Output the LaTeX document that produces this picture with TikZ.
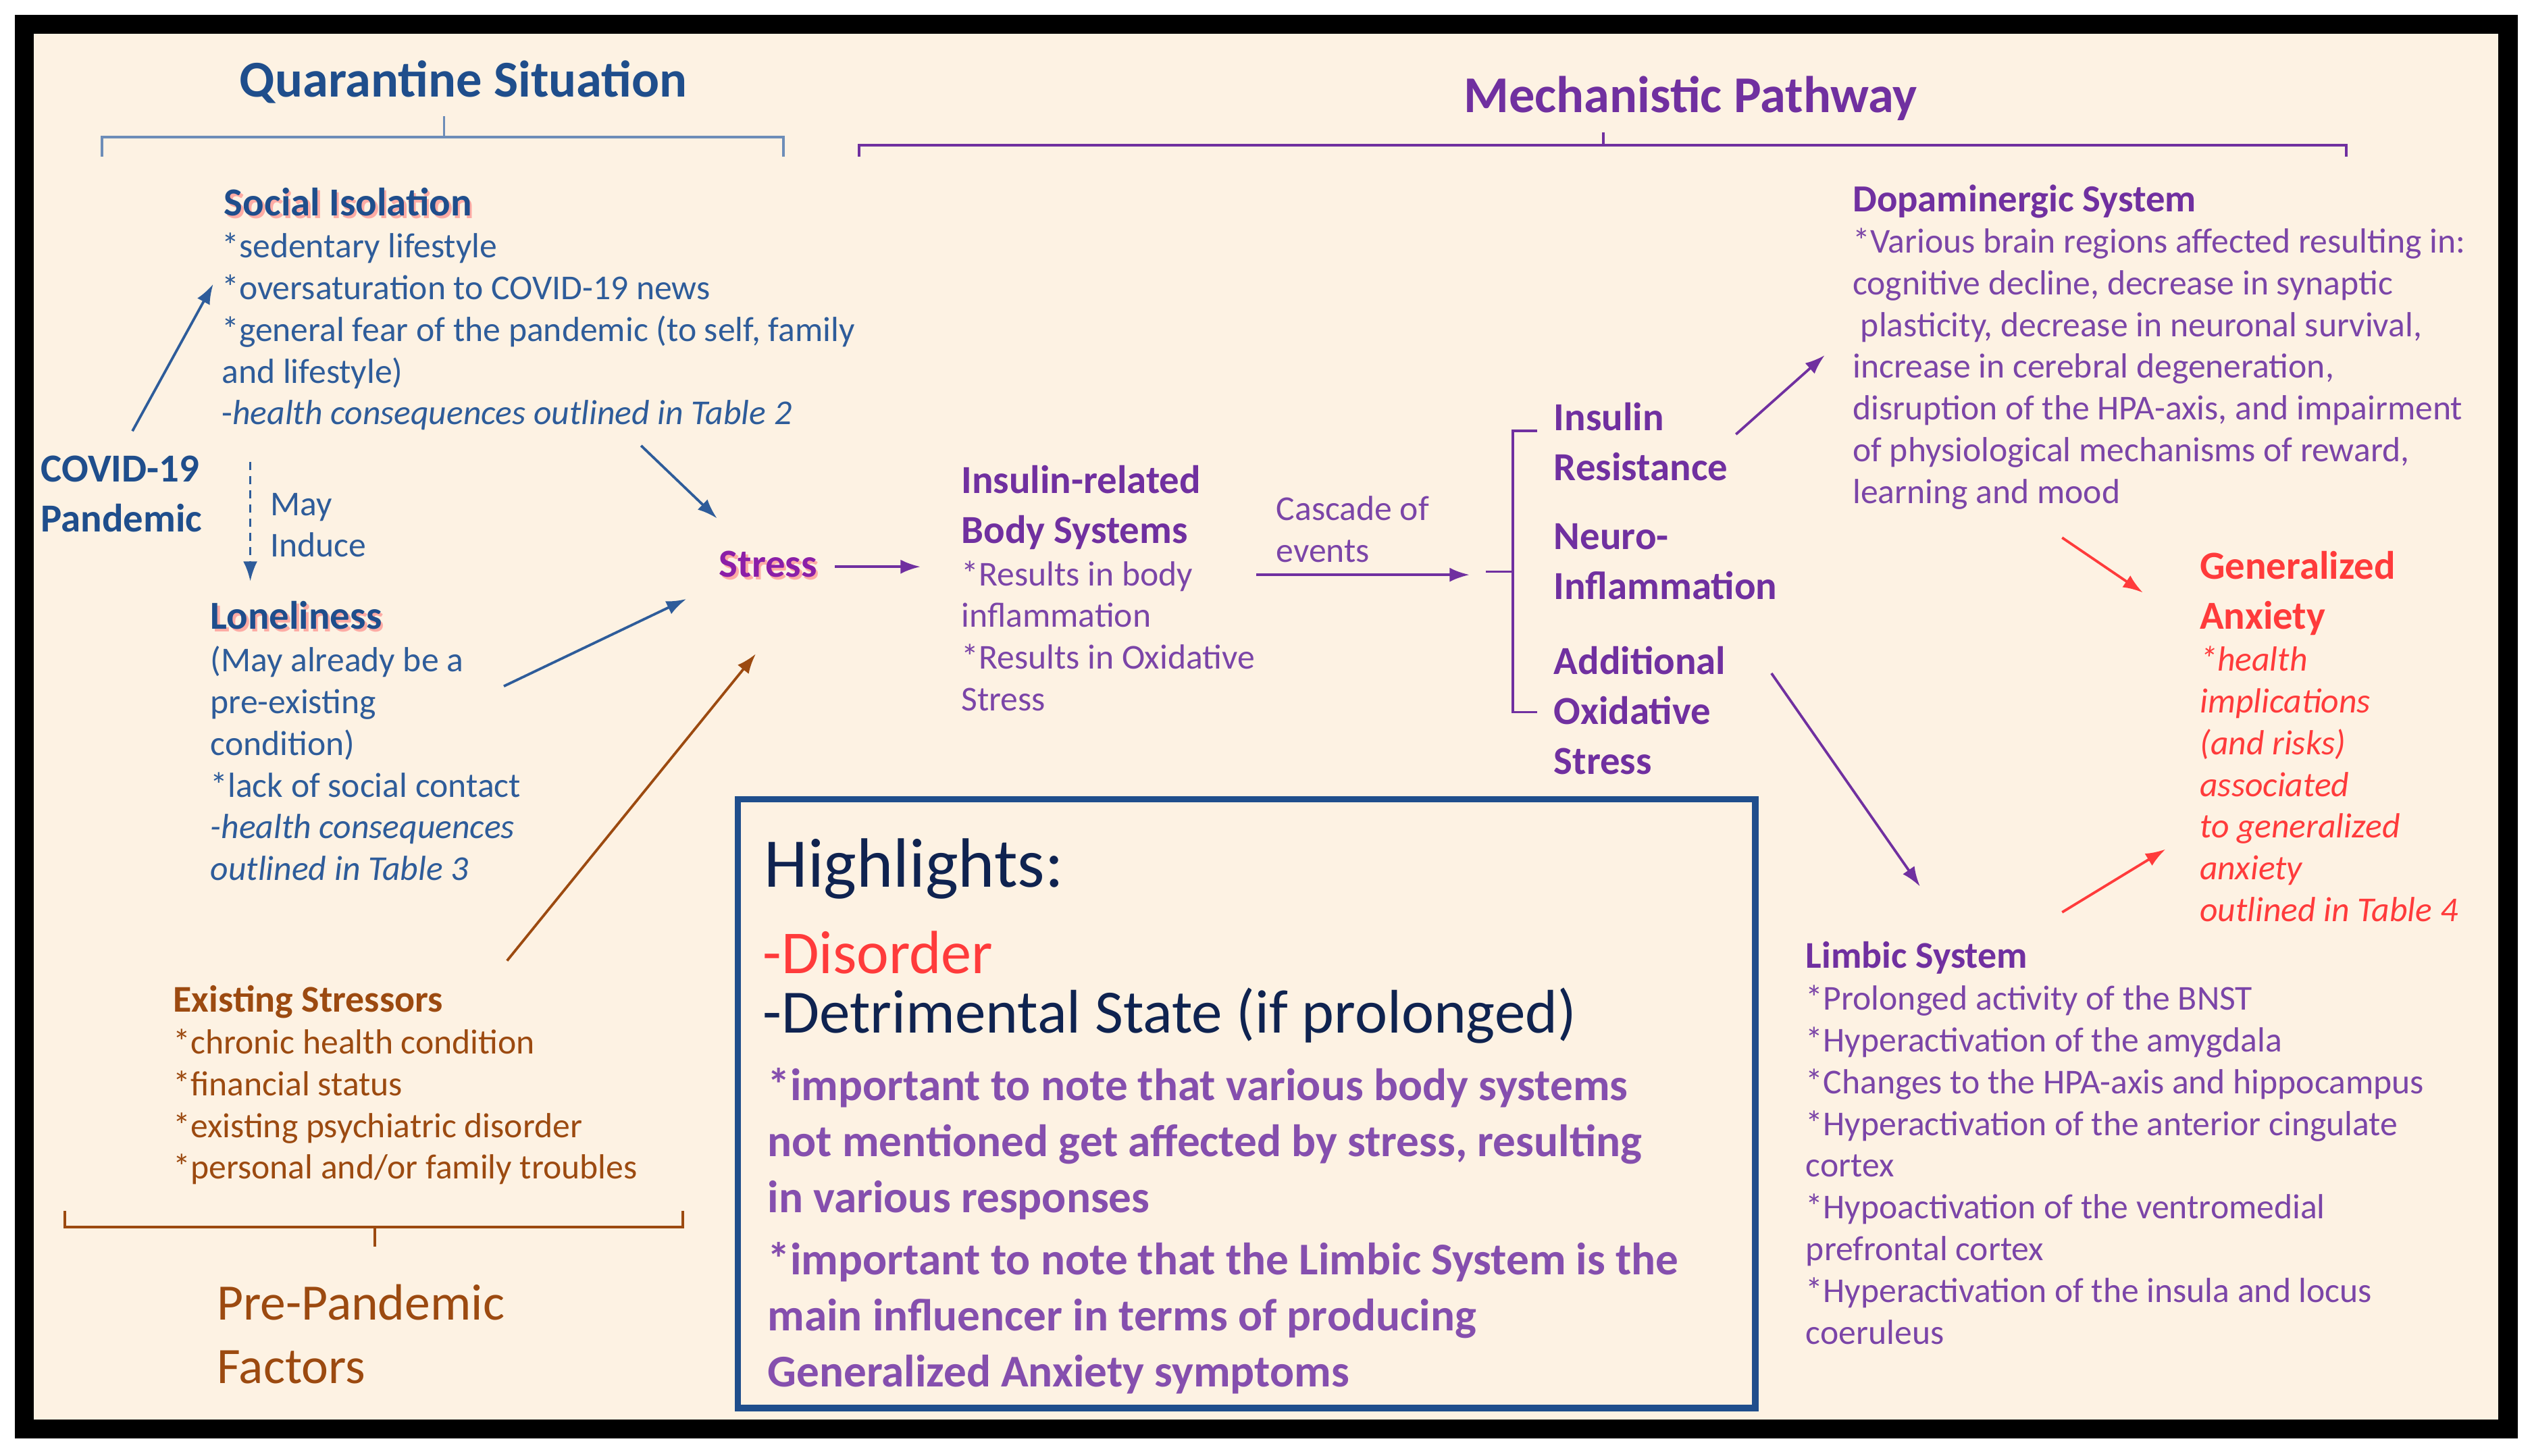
\documentclass[tikz,border=0pt]{standalone}
\usepackage{fontspec}
\setmainfont{Carlito}
\usetikzlibrary{arrows.meta}
\definecolor{bg}{HTML}{FDF2E3}
\definecolor{qblue}{HTML}{1F4E8C}
\definecolor{tblue}{HTML}{2E5C9A}
\definecolor{mpurp}{HTML}{7030A0}
\definecolor{tpurp}{HTML}{7B45A8}
\definecolor{brn}{HTML}{9C4A10}
\definecolor{gred}{HTML}{FF3B3B}
\definecolor{navy}{HTML}{0F2350}
\definecolor{spurp}{HTML}{8B1FA8}
\tikzset{
 txt/.style={anchor=north west,inner sep=0pt,align=left,font=\fontsize{12.3}{14.7}\selectfont},
 hd/.style={anchor=north west,inner sep=0pt,align=left,font=\fontsize{14}{17.6}\selectfont\bfseries},
 arr/.style={-{Latex[length=7pt,width=5pt]},line width=0.9pt},
 brace/.style={line width=0.9pt},
}
\begin{document}
\begin{tikzpicture}[x=0.02cm,y=-0.02cm,every node/.append style={yshift=-1.7pt}]
\useasboundingbox (0,0) rectangle (1568,901.7);
\fill[white] (0,0) rectangle (1568,901.7);
\fill[black] (9,9) rectangle (1559,891);
\fill[bg] (21,21) rectangle (1547,879);
% titles
\node[font=\fontsize{18.2}{21}\selectfont\bfseries,text=qblue] (tq) at (287,48) {Quarantine Situation};
\node[font=\fontsize{18.2}{21}\selectfont\bfseries,text=mpurp] (tm) at (1047,58) {Mechanistic Pathway};
% braces
\draw[brace,draw=tblue!70] (63,97) -- (63,85) -- (275,85) -- (275,72) (275,85) -- (485,85) -- (485,97);
\draw[brace,draw=mpurp] (532,97) -- (532,90) -- (993,90) -- (993,82) (993,90) -- (1453,90) -- (1453,97);
\draw[brace,draw=brn] (40,750) -- (40,760) -- (232,760) -- (232,772) (232,760) -- (423,760) -- (423,750);
\draw[brace,draw=mpurp] (952,267) -- (937,267) -- (937,441) -- (952,441) (937,354) -- (920,354);
% Social isolation
\node[hd,text=red!60,opacity=0.5] at (140,114.5) {Social Isolation};
\node[hd,text=qblue] (si) at (138.5,113) {Social Isolation};
\node[txt,text=tblue] (sib) at (137,141) {*sedentary lifestyle\\*oversaturation to COVID-19 news\\*general fear of the pandemic (to self, family\\and lifestyle)\\-\textit{health consequences outlined in Table 2}};
% COVID
\node[hd,text=qblue,font=\fontsize{14}{17.6}\selectfont\bfseries] (cv) at (25,279) {COVID-19\\Pandemic};
\node[txt,text=tblue] (mi) at (167,302) {May\\Induce};
% Loneliness
\node[hd,text=red!60,opacity=0.5] at (131.5,370.5) {Loneliness};
\node[hd,text=qblue] (lo) at (130,369) {Loneliness};
\node[txt,text=tblue] (lob) at (130,397) {(May already be a\\pre-existing\\condition)\\*lack of social contact\\\textit{-health consequences}\\\textit{outlined in Table 3}};
% Existing stressors
\node[hd,text=brn,font=\fontsize{13.3}{16}\selectfont\bfseries] (es) at (107,607) {Existing Stressors};
\node[txt,text=brn] (esb) at (107,634) {*chronic health condition\\*financial status\\*existing psychiatric disorder\\*personal and/or family troubles};
\node[anchor=north west,inner sep=0pt,align=left,text=brn,font=\fontsize{18}{22.5}\selectfont] (pp) at (134,792) {Pre-Pandemic\\Factors};
% Stress
\node[hd,text=red!60,opacity=0.5] at (446.5,339.5) {Stress};
\node[hd,text=spurp] (st) at (445,338) {Stress};
% insulin related
\node[hd,text=mpurp] (ir) at (595,285) {Insulin-related\\Body Systems};
\node[txt,text=tpurp] (irb) at (595,344) {*Results in body\\inflammation\\*Results in Oxidative\\Stress};
\node[txt,text=tpurp] (ce) at (790,304) {Cascade of\\events};
\node[hd,text=mpurp] (ins) at (962,246) {Insulin\\Resistance};
\node[hd,text=mpurp] (ni) at (962,321) {Neuro-\\Inflammation};
\node[hd,text=mpurp] (ao) at (962,397) {Additional\\Oxidative\\Stress};
% dopaminergic
\node[hd,text=mpurp,font=\fontsize{13.5}{16}\selectfont\bfseries] (dp) at (1147,111) {Dopaminergic System};
\node[txt,text=tpurp] (dpb) at (1147,138) {*Various brain regions affected resulting in:\\cognitive decline, decrease in synaptic\\\ plasticity, decrease in neuronal survival,\\increase in cerebral degeneration,\\disruption of the HPA-axis, and impairment\\of physiological mechanisms of reward,\\learning and mood};
% GA
\node[hd,text=gred] (ga) at (1362,338) {Generalized\\Anxiety};
\node[txt,text=gred,font=\fontsize{12.3}{14.7}\selectfont\itshape] (gab) at (1362,397) {*health\\implications\\(and risks)\\associated\\to generalized\\anxiety\\outlined in Table 4};
% limbic
\node[hd,text=mpurp,font=\fontsize{13.3}{16}\selectfont\bfseries] (lb) at (1118,580) {Limbic System};
\node[txt,text=tpurp] (lbb) at (1118,607) {*Prolonged activity of the BNST\\*Hyperactivation of the amygdala\\*Changes to the HPA-axis and hippocampus\\*Hyperactivation of the anterior cingulate\\cortex\\*Hypoactivation of the ventromedial\\prefrontal cortex\\*Hyperactivation of the insula and locus\\coeruleus};
% highlights box
\draw[draw=qblue,line width=0.08cm,fill=bg] (457,495) rectangle (1087,872);
\node[anchor=west,inner sep=0pt,text=navy,font=\fontsize{24.6}{28}\selectfont] (hl) at (473,535) {Highlights:};
\node[anchor=west,inner sep=0pt,text=gred,font=\fontsize{21.5}{25}\selectfont] (hd1) at (472,587) {-Disorder};
\node[anchor=west,inner sep=0pt,text=navy,font=\fontsize{21.7}{25}\selectfont] (hd2) at (472,626) {-Detrimental State (if prolonged)};
\node[anchor=north west,inner sep=0pt,align=left,text=mpurp!85,font=\fontsize{16}{19.8}\selectfont\bfseries] (hn1) at (475,658) {*important to note that various body systems\\not mentioned get affected by stress, resulting\\in various responses};
\node[anchor=north west,inner sep=0pt,align=left,text=mpurp!85,font=\fontsize{16}{19.8}\selectfont\bfseries] (hn2) at (475,766) {*important to note that the Limbic System is the\\main influencer in terms of producing\\Generalized Anxiety symptoms};
% arrow coordinates
\coordinate (a1) at (82,264); \coordinate (a2) at (132,173);
\coordinate (b1) at (397,273); \coordinate (b2) at (444,318);
\coordinate (c1) at (312,422); \coordinate (c2) at (425,368);
\coordinate (d1) at (314,592); \coordinate (d2) at (468,402);
\coordinate (e1) at (517,348); \coordinate (e2) at (570,348);
\coordinate (f1) at (778,353); \coordinate (f2) at (910,353);
\coordinate (g1) at (1075,266); \coordinate (g2) at (1130,217);
\coordinate (h1) at (1097,414); \coordinate (h2) at (1189,546);
\coordinate (i1) at (1277,330); \coordinate (i2) at (1327,364);
\coordinate (j1) at (1277,562); \coordinate (j2) at (1341,523);
\coordinate (k1) at (155,283); \coordinate (k2) at (155,357);
\draw[arr,tblue] (a1) -- (a2);
\draw[arr,tblue] (b1) -- (b2);
\draw[arr,tblue] (c1) -- (c2);
\draw[arr,brn] (d1) -- (d2);
\draw[arr,mpurp] (e1) -- (e2);
\draw[arr,mpurp] (f1) -- (f2);
\draw[arr,mpurp] (g1) -- (g2);
\draw[arr,mpurp] (h1) -- (h2);
\draw[arr,gred] (i1) -- (i2);
\draw[arr,gred] (j1) -- (j2);
\draw[arr,tblue,dash pattern=on 3pt off 2pt] (k1) -- (k2);
\end{tikzpicture}
\end{document}
